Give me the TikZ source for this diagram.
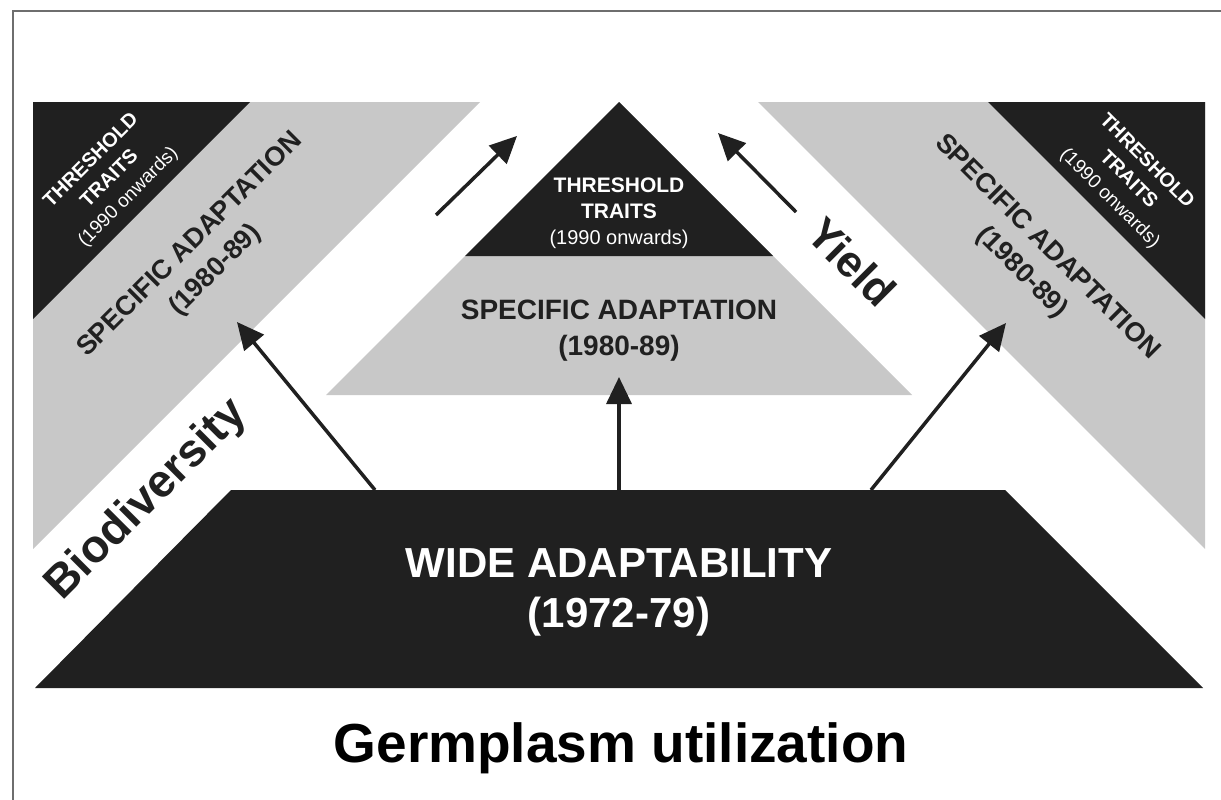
\documentclass[tikz,border=0pt]{standalone}
\usepackage{fontspec}
\setmainfont{Liberation Sans}
\usetikzlibrary{arrows.meta}
\definecolor{darkfill}{RGB}{32,32,32}
\definecolor{greyfill}{RGB}{200,200,200}
\definecolor{framegrey}{RGB}{110,110,110}

\begin{document}
\begin{tikzpicture}[x=1pt,y=-1pt,
  band/.style={fill=greyfill},
  block/.style={fill=darkfill},
  lbl/.style={inner sep=0pt,align=center},
  arr/.style={line width=3.5pt,draw=darkfill,-{Triangle[length=27pt,width=25pt]}}]
\useasboundingbox (0,0) rectangle (1221,800);
\fill[white] (0,0) rectangle (1221,800);
\draw[framegrey,line width=2pt] (13,800) -- (13,11) -- (1221,11);

% side bands
\fill[band] (33,102) -- (480,102) -- (33,549) -- cycle;
\fill[block] (33,102) -- (250,102) -- (33,319) -- cycle;
\fill[band] (1205,102) -- (758,102) -- (1205,549) -- cycle;
\fill[block] (1205,102) -- (988,102) -- (1205,319) -- cycle;

% centre pyramid
\fill[band] (619,102) -- (912,395) -- (326,395) -- cycle;
\fill[block] (619,102) -- (773,256) -- (465,256) -- cycle;

% base
\fill[block] (35,688) -- (231,490) -- (1005,490) -- (1203,688) -- cycle;

% texts
\node[lbl,text=white,font=\bfseries\fontsize{21}{26}\selectfont] (thrc) at (619,213)
  {THRESHOLD\\TRAITS\\{\mdseries\fontsize{20}{26}\selectfont (1990 onwards)}};
\node[lbl,text=white,rotate=45,font=\bfseries\fontsize{20}{26}\selectfont] (thrl) at (110,179)
  {THRESHOLD\\TRAITS\\{\mdseries\fontsize{19}{26}\selectfont (1990 onwards)}};
\node[lbl,text=white,rotate=-45,font=\bfseries\fontsize{20}{26}\selectfont] (thrr) at (1128,180)
  {THRESHOLD\\TRAITS\\{\mdseries\fontsize{19}{26}\selectfont (1990 onwards)}};

\node[lbl,text=darkfill,font=\bfseries\fontsize{28}{36}\selectfont] (spcc) at (619,331)
  {SPECIFIC ADAPTATION\\(1980-89)};
\node[lbl,text=darkfill,rotate=45,font=\bfseries\fontsize{27}{36}\selectfont] (spcl) at (203,258)
  {SPECIFIC ADAPTATION\\(1980-89)};
\node[lbl,text=darkfill,rotate=-45,font=\bfseries\fontsize{27}{36}\selectfont] (spcr) at (1034,260)
  {SPECIFIC ADAPTATION\\(1980-89)};

\node[lbl,text=white,font=\bfseries\fontsize{42}{50}\selectfont] (wide) at (619,592)
  {WIDE ADAPTABILITY\\(1972-79)};

\node[lbl,text=darkfill,rotate=45,font=\bfseries\fontsize{46}{50}\selectfont] (bio) at (147,500) {Biodiversity};
\node[lbl,text=darkfill,rotate=-45,font=\bfseries\fontsize{44}{50}\selectfont] (yld) at (852,262) {Yield};

\node[lbl,anchor=base,text=black,font=\bfseries\fontsize{55}{60}\selectfont] (title) at (621,762)
  {Germplasm utilization};

% arrows
\coordinate (wl) at (375,490); \coordinate (sl) at (237,322);
\coordinate (wc) at (619,490); \coordinate (sc) at (619,377);
\coordinate (wr) at (871,490); \coordinate (sr) at (1006,323);
\coordinate (bl) at (436,215); \coordinate (tl) at (517,136);
\coordinate (yr) at (796,212); \coordinate (tr) at (718,133);
\draw[arr] (wl) -- (sl);
\draw[arr] (wc) -- (sc);
\draw[arr] (wr) -- (sr);
\draw[arr] (bl) -- (tl);
\draw[arr] (yr) -- (tr);
\end{tikzpicture}
\end{document}
